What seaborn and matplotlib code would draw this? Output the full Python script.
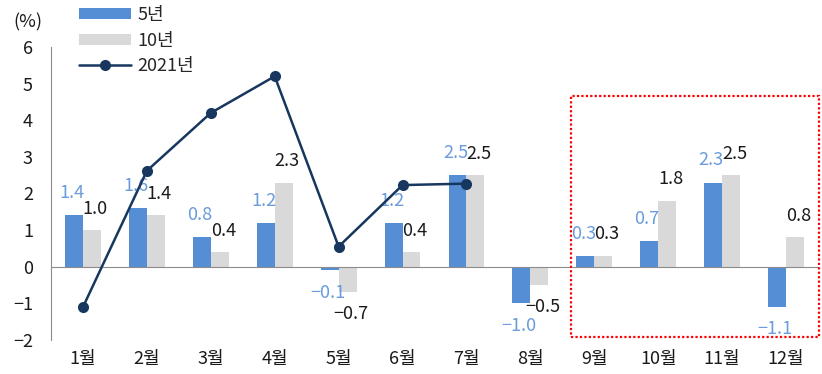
import numpy as np
import pandas as pd
import seaborn as sns
import matplotlib.pyplot as plt
from matplotlib.patches import Patch, Rectangle
from matplotlib.lines import Line2D

# data
months = ['1월', '2월', '3월', '4월', '5월', '6월', '7월', '8월', '9월', '10월', '11월', '12월']
avg_5y = [1.4, 1.6, 0.8, 1.2, -0.1, 1.2, 2.5, -1.0, 0.3, 0.7, 2.3, -1.1]
avg_10y = [1.0, 1.4, 0.4, 2.3, -0.7, 0.4, 2.5, -0.5, 0.3, 1.8, 2.5, 0.8]
y2021 = [-1.1, 2.62, 4.2, 5.2, 0.55, 2.23, 2.27]
series_names = ['5년', '10년', '2021년']

BLUE = '#558ED5'
BLUE_TXT = '#6A9BDB'
GRAY = '#D9D9D9'
NAVY = '#17375E'
AXIS = '#8C8C8C'
FS = 13

sns.set_style('white')
plt.rcParams['font.family'] = ['Noto Sans CJK KR', 'DejaVu Sans']
plt.rcParams['axes.unicode_minus'] = True

df = pd.DataFrame({
    'month': months * 2,
    'series': [series_names[0]] * 12 + [series_names[1]] * 12,
    'value': avg_5y + avg_10y,
})

fig = plt.figure(figsize=(8.22, 3.74), dpi=100)
ax = fig.add_axes([51 / 822, 1 - 340 / 374, (818 - 51) / 822, (340 - 47) / 374])

sns.barplot(data=df, x='month', y='value', hue='series', order=months,
            palette=[BLUE, GRAY], width=0.56, gap=0, saturation=1,
            linewidth=0, edgecolor='none', legend=False, ax=ax, zorder=2)

sns.lineplot(x=np.arange(len(y2021)), y=y2021, color=NAVY, linewidth=1.8,
             marker='o', markersize=8, markeredgewidth=0, ax=ax, zorder=5)

# data labels
bw = 0.28
for i, (a, b) in enumerate(zip(avg_5y, avg_10y)):
    s = 1 if a >= 0 else -1
    ax.annotate(f'{a:.1f}'.replace('-', '\u2212'), xy=(i - bw / 2, a), xytext=(-1.5, s * 16),
                textcoords='offset points', ha='center', va='center',
                fontsize=FS, color=BLUE_TXT, zorder=3)
    s = 1 if b >= 0 else -1
    ax.annotate(f'{b:.1f}'.replace('-', '\u2212'), xy=(i + bw / 2, b), xytext=(2.5, s * 15.5),
                textcoords='offset points', ha='center', va='center',
                fontsize=FS, color='#1A1A1A', zorder=3)

ax.set_xlim(-0.5, 11.5)
ax.set_ylim(-2, 6)
ax.set_yticks(range(-2, 7))
ax.set_xticks(np.arange(0.5, 12, 1))
ax.set_xticklabels([])
ax.set_xlabel('')
ax.set_ylabel('')
ax.tick_params(axis='y', direction='in', length=4, width=1, color=AXIS,
               pad=13, labelsize=FS, labelcolor='#1A1A1A')
ax.tick_params(axis='x', direction='in', length=5, width=1, color=AXIS)

for sp in ['top', 'right']:
    ax.spines[sp].set_visible(False)
ax.spines['left'].set_color(AXIS)
ax.spines['bottom'].set_color(AXIS)
ax.spines['bottom'].set_position(('data', 0))
ax.spines['bottom'].set_zorder(4)

for i, m in enumerate(months):
    ax.annotate(m, xy=(i, 0), xycoords=('data', 'axes fraction'), xytext=(0, -13.5),
                textcoords='offset points', ha='center', va='center',
                fontsize=FS, color='#1A1A1A', annotation_clip=False)

# highlighted forecast period
ax.add_patch(Rectangle((7.64, -1.93), 3.88, 6.59, fill=False, edgecolor='#FF0000',
                       linestyle=(0, (1, 1)), linewidth=1.6, clip_on=False, zorder=6))

handles = [Patch(facecolor=BLUE, edgecolor='none'),
           Patch(facecolor=GRAY, edgecolor='none'),
           Line2D([], [], color=NAVY, linewidth=1.8, marker='o', markersize=8, markeredgewidth=0)]
fig.legend(handles, series_names, loc='upper left', bbox_to_anchor=(79 / 822, 1 - 6 / 374),
           frameon=False, fontsize=FS, handlelength=2.9, handleheight=0.55,
           handletextpad=0.35, labelspacing=0.42, borderpad=0, borderaxespad=0)

fig.text(28 / 822, 1 - 22 / 374, '(%)', ha='center', va='center', fontsize=FS, color='#1A1A1A')

fig.savefig('out.png', dpi=100)
